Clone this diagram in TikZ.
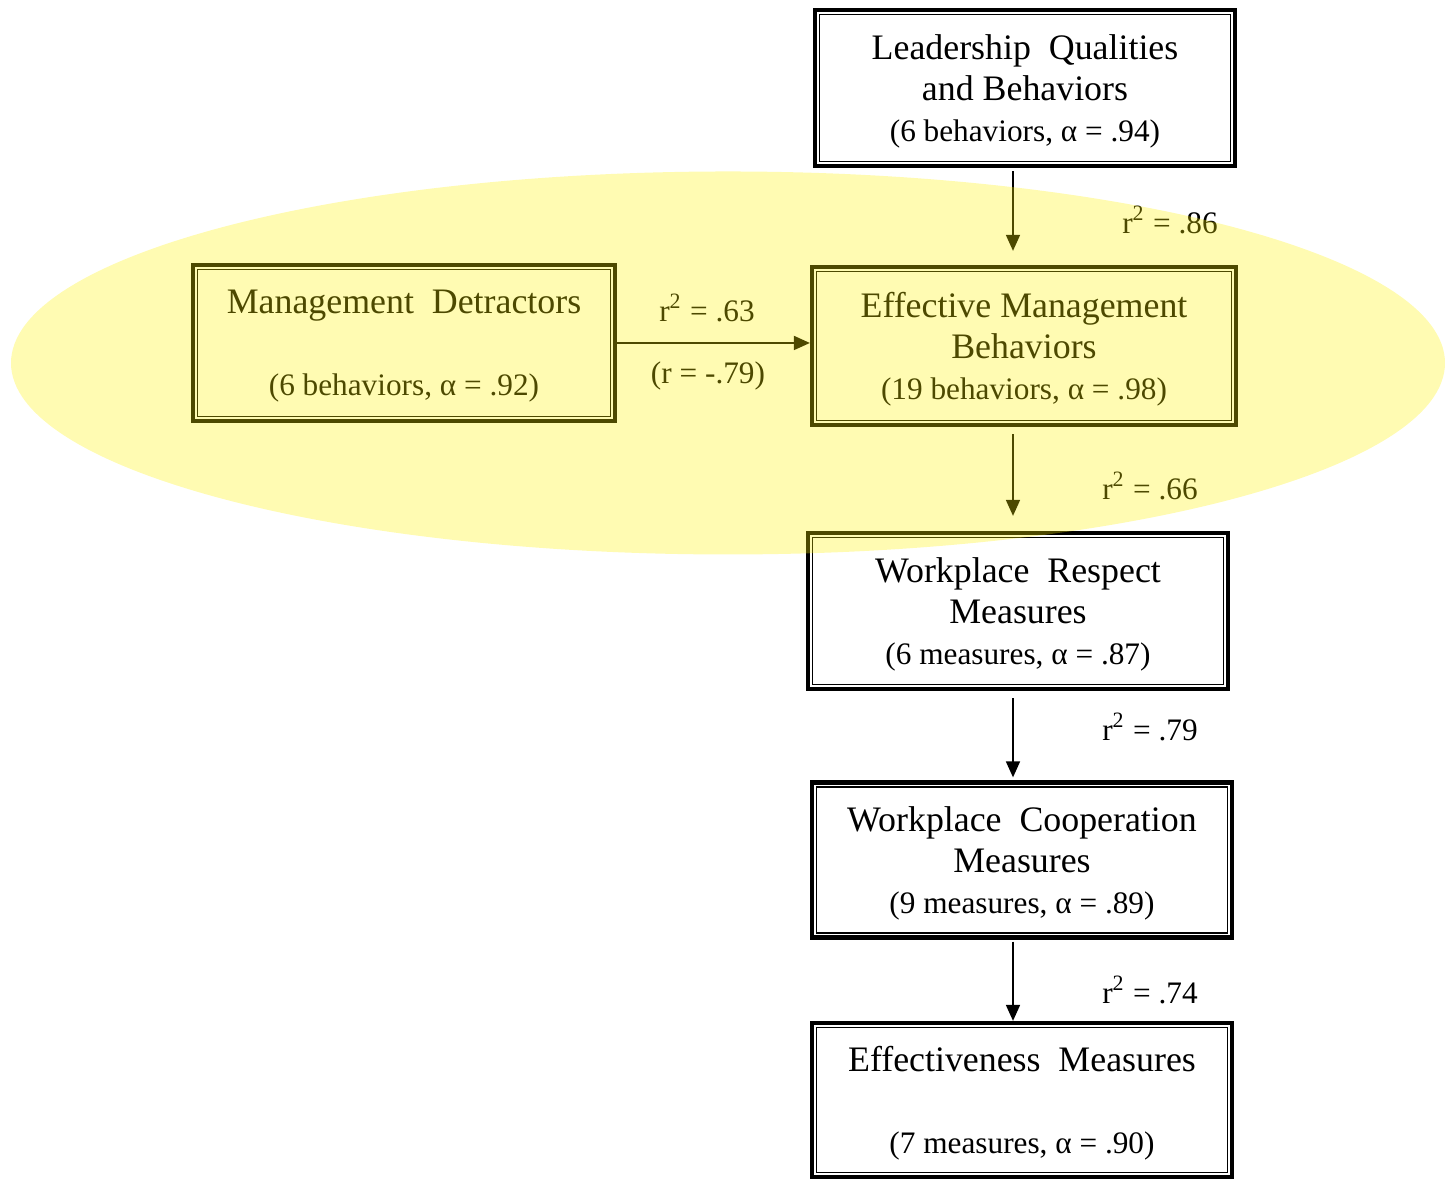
\documentclass[tikz,border=0pt]{standalone}
\usepackage{fontspec}
\setmainfont{Liberation Serif}
\usetikzlibrary{arrows.meta}
\newcommand\titlesize{\fontsize{10.2}{11.6}\selectfont}
\newcommand\subsize{\fontsize{8.9}{11.6}\selectfont}
\tikzset{box/.style={draw, line width=1.2pt, minimum width=4.2cm, minimum height=1.56cm, align=center, font=\titlesize, inner sep=0pt,
    text depth=-1pt},
  arr/.style={-{Triangle[length=0.16cm,width=0.14cm]}, line width=0.5pt},
  lbl/.style={font=\subsize, inner sep=1pt},
  hilite/.style={fill=yellow, fill opacity=0.3}}

\begin{document}
\begin{tikzpicture}
  \useasboundingbox (0,0) rectangle (14.45,11.79);
  \node[box] (lead) at (10.25,10.91) {Leadership~~Qualities\\ and Behaviors\\ {\subsize(6 behaviors, α = .94)}};
  \node[box, minimum width=4.22cm] (detr) at (4.04,8.36) {Management~~Detractors\\[11.6pt] {\subsize(6 behaviors, α = .92)}};
  \node[box, minimum width=4.24cm, minimum height=1.58cm] (emb) at (10.24,8.33) {Effective Management\\ Behaviors\\ {\subsize(19 behaviors, α = .98)}};
  \node[box] (resp) at (10.18,5.68) {Workplace~~Respect\\ Measures\\ {\subsize(6 measures, α = .87)}};
  \node[box, minimum height=1.55cm] (coop) at (10.22,3.19) {Workplace~~Cooperation\\ Measures\\ {\subsize(9 measures, α = .89)}};
  \node[box, minimum height=1.54cm] (effm) at (10.22,0.79) {Effectiveness~~Measures\\[11.6pt] {\subsize(7 measures, α = .90)}};
  \foreach \n in {lead,detr,emb,resp,coop,effm}
    \draw[line width=0.4pt] ([shift={(0.065,-0.065)}]\n.north west) rectangle ([shift={(-0.065,0.065)}]\n.south east);

  \coordinate (ax) at (10.13,0);
  \draw[arr, shorten <=0.03cm, shorten >=0.14cm] (lead.south -| ax) -- (emb.north -| ax);
  \draw[arr] (detr.east) -- (detr.east -| emb.west);
  \draw[arr, shorten <=0.07cm, shorten >=0.15cm] (emb.south -| ax) -- (resp.north -| ax);
  \draw[arr, shorten <=0.07cm, shorten >=0.03cm] (resp.south -| ax) -- (coop.north -| ax);
  \draw[arr, shorten <=0.02cm] (coop.south -| ax) -- (effm.north -| ax);

  \node[lbl] (r86) at (11.70,9.59) {r\textsuperscript{2} = .86};
  \node[lbl] (r63) at (7.07,8.71) {r\textsuperscript{2} = .63};
  \node[lbl] (r79n) at (7.08,8.03) {(r = -.79)};
  \node[lbl] (r66) at (11.50,6.93) {r\textsuperscript{2} = .66};
  \node[lbl] (r79) at (11.50,4.52) {r\textsuperscript{2} = .79};
  \node[lbl] (r74) at (11.50,1.89) {r\textsuperscript{2} = .74};

  \fill[hilite] (7.28,8.16) ellipse [x radius=7.17, y radius=1.915];
\end{tikzpicture}
\end{document}
